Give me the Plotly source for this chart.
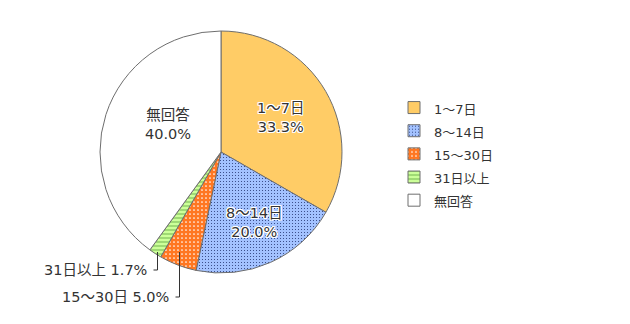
import math
import plotly.graph_objects as go

# Survey answer shares (percent)
categories = ["1～7日", "8～14日", "15～30日", "31日以上", "無回答"]
values = [33.3, 20.0, 5.0, 1.7, 40.0]

fill_colors = ["#FFCC66", "#A3C2FF", "#FF7722", "#CCFF99", "#FFFFFF"]
pattern_shapes = ["", ".", ".", "-", ""]
pattern_fg = ["#FFCC66", "#1A2A66", "#FFFFFF", "#66AA44", "#FFFFFF"]
pattern_size = [4, 3, 4, 4, 4]
pattern_solidity = [0.2, 0.09, 0.14, 0.22, 0.2]

W, H = 630, 324
CX, CY, R = 221, 152, 121
FONT = "DejaVu Sans, Noto Sans CJK JP, sans-serif"
HALO = ("1px 1px 0 #fff, -1px -1px 0 #fff, 1px -1px 0 #fff, -1px 1px 0 #fff, "
        "0 1px 0 #fff, 0 -1px 0 #fff, 1px 0 0 #fff, -1px 0 0 #fff")


def px(x):
    return x / W


def py(y):
    return 1 - y / H


legend_labels = [f'<span style="font-size:13px">{c}</span>' for c in categories]

fig = go.Figure(
    go.Pie(
        labels=legend_labels,
        values=values,
        sort=False,
        direction="clockwise",
        rotation=0,
        textinfo="none",
        hovertext=categories,
        hoverinfo="text+percent",
        marker=dict(
            colors=fill_colors,
            line=dict(color="#6E6E6E", width=1),
            pattern=dict(
                shape=pattern_shapes,
                fgcolor=pattern_fg,
                bgcolor=fill_colors,
                size=pattern_size,
                solidity=pattern_solidity,
                fillmode="replace",
            ),
        ),
        domain=dict(x=[px(CX - R), px(CX + R)], y=[py(CY + R), py(CY - R)]),
    )
)

# Mid angles of each slice, measured clockwise from 12 o'clock
total = sum(values)
mids = []
acc = 0.0
for v in values:
    mids.append((acc + v / 2) / total * 360)
    acc += v


def polar(angle_deg, r):
    a = math.radians(angle_deg)
    return CX + r * math.sin(a), CY - r * math.cos(a)


# Inside labels for the large slices: (index, radius fraction, angle tweak)
inside = [(0, 0.565, 0), (1, 0.647, -1.6), (4, 0.495, 8.8)]
for i, rf, da in inside:
    x, y = polar(mids[i] + da, R * rf)
    fig.add_annotation(
        x=px(x), y=py(y), xref="paper", yref="paper",
        xanchor="center", yanchor="middle",
        text=f"{categories[i]}<br>{values[i]:.1f}%",
        showarrow=False, align="center",
        font=dict(family=FONT, size=14.5, color="#333333", shadow=HALO),
    )

# Outside labels with elbow leader lines for the thin slices
outside = [(3, 118), (2, 145)]  # (index, drop below center in px)
for i, drop in outside:
    x0, _ = polar(mids[i], R * 0.97)
    x0 = round(x0) + 0.5
    y0 = CY + 100
    y1 = CY + drop
    fig.add_shape(type="line", xref="paper", yref="paper",
                  x0=px(x0), y0=py(y0), x1=px(x0), y1=py(y1),
                  line=dict(color="#333333", width=1))
    fig.add_shape(type="line", xref="paper", yref="paper",
                  x0=px(x0), y0=py(y1), x1=px(x0 - 4), y1=py(y1),
                  line=dict(color="#333333", width=1))
    fig.add_annotation(
        x=px(x0 - 9), y=py(y1), xref="paper", yref="paper",
        text=f"{categories[i]} {values[i]:.1f}%",
        showarrow=False, xanchor="right", yanchor="middle",
        font=dict(family=FONT, size=14.5, color="#333333"),
    )

fig.update_layout(
    width=W, height=H,
    margin=dict(l=0, r=0, t=0, b=0),
    paper_bgcolor="#FFFFFF",
    showlegend=True,
    legend=dict(
        x=px(394), y=py(91), xanchor="left", yanchor="top",
        font=dict(family=FONT, size=15.5, color="#333333"),
        tracegroupgap=0, itemclick=False,
    ),
)

fig.write_html("out.html")
